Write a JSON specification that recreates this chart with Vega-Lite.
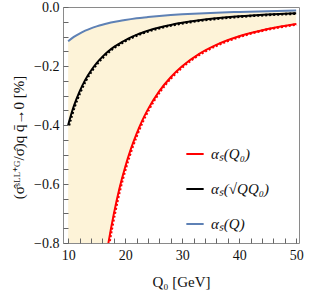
{
  "$schema": "https://vega.github.io/schema/vega-lite/v6.json",
  "autosize": "none",
  "width": 236,
  "height": 236,
  "padding": {"left": 63, "top": 7, "right": 10, "bottom": 53},
  "background": "white",
  "config": {
    "font": "Liberation Serif",
    "view": {"stroke": "#8a8a8a", "strokeWidth": 1},
    "axis": {
      "grid": false,
      "labelFont": "Liberation Serif",
      "labelFontSize": 14,
      "labelColor": "#111",
      "titleFont": "Liberation Serif",
      "titleFontWeight": "normal",
      "titleColor": "#111"
    }
  },
  "data": {
    "values": [
      {"Q0": 10, "red": -2.97, "black": -0.400, "blue": -0.116},
      {"Q0": 11, "red": -2.35, "black": -0.336, "blue": -0.1015},
      {"Q0": 12, "red": -1.90, "black": -0.287, "blue": -0.0899},
      {"Q0": 13, "red": -1.56, "black": -0.247, "blue": -0.0803},
      {"Q0": 14, "red": -1.30, "black": -0.216, "blue": -0.0724},
      {"Q0": 15, "red": -1.10, "black": -0.190, "blue": -0.0658},
      {"Q0": 16, "red": -0.937, "black": -0.169, "blue": -0.0601},
      {"Q0": 17, "red": -0.808, "black": -0.151, "blue": -0.0552},
      {"Q0": 18, "red": -0.703, "black": -0.136, "blue": -0.0509},
      {"Q0": 19, "red": -0.615, "black": -0.124, "blue": -0.0472},
      {"Q0": 20, "red": -0.543, "black": -0.113, "blue": -0.044},
      {"Q0": 21, "red": -0.482, "black": -0.103, "blue": -0.0411},
      {"Q0": 22, "red": -0.430, "black": -0.0945, "blue": -0.0385},
      {"Q0": 23, "red": -0.385, "black": -0.0871, "blue": -0.0361},
      {"Q0": 24, "red": -0.347, "black": -0.0806, "blue": -0.0341},
      {"Q0": 26, "red": -0.285, "black": -0.0696, "blue": -0.0305},
      {"Q0": 28, "red": -0.238, "black": -0.0608, "blue": -0.0274},
      {"Q0": 30, "red": -0.201, "black": -0.0536, "blue": -0.0249},
      {"Q0": 33, "red": -0.159, "black": -0.045, "blue": -0.0218},
      {"Q0": 36, "red": -0.1285, "black": -0.0384, "blue": -0.0193},
      {"Q0": 40, "red": -0.0993, "black": -0.0316, "blue": -0.0167},
      {"Q0": 45, "red": -0.0744, "black": -0.0255, "blue": -0.0141},
      {"Q0": 50, "red": -0.0575, "black": -0.021, "blue": -0.0122}
    ]
  },
  "layer": [
    {
      "mark": {"type": "area", "color": "#fdf3d8", "interpolate": "monotone", "clip": true},
      "encoding": {
        "x": {
          "field": "Q0", "type": "quantitative",
          "scale": {"domain": [9.1, 50.5], "nice": false, "zero": false},
          "axis": {
            "orient": "bottom",
            "values": [10, 12, 14, 16, 18, 20, 22, 24, 26, 28, 30, 32, 34, 36, 38, 40, 42, 44, 46, 48, 50],
            "labelExpr": "datum.value % 10 === 0 ? datum.label : ''",
            "ticks": true,
            "domain": false,
            "zindex": 2,
            "tickSize": -5,
            "tickOpacity": 1,
            "tickColor": "#666666",
            "tickWidth": 1,
            "labelPadding": 10,
            "title": "Q₀ [GeV]",
            "titleFontSize": 15,
            "titlePadding": 12
          }
        },
        "y": {
          "field": "blue", "type": "quantitative",
          "scale": {"domain": [-0.8, 0], "nice": false},
          "axis": {
            "orient": "left",
            "values": [-0.8, -0.75, -0.7, -0.65, -0.6, -0.55, -0.5, -0.45, -0.4, -0.35, -0.3, -0.25, -0.2, -0.15, -0.1, -0.05, 0],
            "format": ".1f",
            "labelExpr": "abs(round(datum.value * 20)) % 4 === 0 ? datum.label : ''",
            "ticks": true,
            "domain": false,
            "zindex": 2,
            "tickSize": -5,
            "tickOpacity": 1,
            "tickColor": "#666666",
            "tickWidth": 1,
            "labelPadding": 9,
            "title": "(σ̂ˢᴸᴸ⁺ᴳ/σ̂)q q̄→0 [%]",
            "titleFontSize": 15,
            "titleX": -45,
            "titleY": 130,
            "titleBaseline": "middle"
          }
        },
        "y2": {"field": "red"}
      }
    },
    {
      "transform": [{"fold": ["red", "black", "blue"], "as": ["series", "value"]}],
      "mark": {"type": "line", "strokeWidth": 2, "interpolate": "monotone", "clip": true},
      "encoding": {
        "x": {
          "field": "Q0", "type": "quantitative",
          "scale": {"domain": [9.1, 50.5], "nice": false, "zero": false},
          "axis": {
            "orient": "bottom",
            "values": [10, 12, 14, 16, 18, 20, 22, 24, 26, 28, 30, 32, 34, 36, 38, 40, 42, 44, 46, 48, 50],
            "labelExpr": "datum.value % 10 === 0 ? datum.label : ''",
            "ticks": true,
            "domain": false,
            "zindex": 2,
            "tickSize": -5,
            "tickOpacity": 1,
            "tickColor": "#666666",
            "tickWidth": 1,
            "labelPadding": 10,
            "title": "Q₀ [GeV]",
            "titleFontSize": 15,
            "titlePadding": 12
          }
        },
        "y": {
          "field": "value", "type": "quantitative",
          "scale": {"domain": [-0.8, 0], "nice": false},
          "axis": {
            "orient": "left",
            "values": [-0.8, -0.75, -0.7, -0.65, -0.6, -0.55, -0.5, -0.45, -0.4, -0.35, -0.3, -0.25, -0.2, -0.15, -0.1, -0.05, 0],
            "format": ".1f",
            "labelExpr": "abs(round(datum.value * 20)) % 4 === 0 ? datum.label : ''",
            "ticks": true,
            "domain": false,
            "zindex": 2,
            "tickSize": -5,
            "tickOpacity": 1,
            "tickColor": "#666666",
            "tickWidth": 1,
            "labelPadding": 9,
            "title": "(σ̂ˢᴸᴸ⁺ᴳ/σ̂)q q̄→0 [%]",
            "titleFontSize": 15,
            "titleX": -45,
            "titleY": 130,
            "titleBaseline": "middle"
          }
        },
        "color": {
          "field": "series", "type": "nominal",
          "scale": {"domain": ["red", "black", "blue"], "range": ["#ff0000", "#000000", "#5e81b5"]},
          "legend": {
            "orient": "none",
            "legendX": 122,
            "legendY": 137,
            "title": null,
            "symbolType": "stroke",
            "symbolSize": 300,
            "symbolStrokeWidth": 2,
            "labelFont": "Liberation Serif",
            "labelFontStyle": "italic",
            "labelFontSize": 15,
            "labelColor": "#111",
            "rowPadding": 17,
            "labelOffset": 6,
            "labelExpr": "datum.value === 'red' ? 'αₛ(Q₀)' : datum.value === 'black' ? 'αₛ(√QQ₀)' : 'αₛ(Q)'"
          }
        }
      }
    },
    {
      "transform": [{"fold": ["red", "black"], "as": ["series", "value"]}],
      "mark": {"type": "line", "strokeWidth": 2.6, "strokeDash": [2, 2], "interpolate": "monotone", "clip": true, "xOffset": 0.8, "yOffset": 0.4},
      "encoding": {
        "x": {
          "field": "Q0", "type": "quantitative",
          "scale": {"domain": [9.1, 50.5], "nice": false, "zero": false},
          "axis": {
            "orient": "bottom",
            "values": [10, 12, 14, 16, 18, 20, 22, 24, 26, 28, 30, 32, 34, 36, 38, 40, 42, 44, 46, 48, 50],
            "labelExpr": "datum.value % 10 === 0 ? datum.label : ''",
            "ticks": true,
            "domain": false,
            "zindex": 2,
            "tickSize": -5,
            "tickOpacity": 1,
            "tickColor": "#666666",
            "tickWidth": 1,
            "labelPadding": 10,
            "title": "Q₀ [GeV]",
            "titleFontSize": 15,
            "titlePadding": 12
          }
        },
        "y": {
          "field": "value", "type": "quantitative",
          "scale": {"domain": [-0.8, 0], "nice": false},
          "axis": {
            "orient": "left",
            "values": [-0.8, -0.75, -0.7, -0.65, -0.6, -0.55, -0.5, -0.45, -0.4, -0.35, -0.3, -0.25, -0.2, -0.15, -0.1, -0.05, 0],
            "format": ".1f",
            "labelExpr": "abs(round(datum.value * 20)) % 4 === 0 ? datum.label : ''",
            "ticks": true,
            "domain": false,
            "zindex": 2,
            "tickSize": -5,
            "tickOpacity": 1,
            "tickColor": "#666666",
            "tickWidth": 1,
            "labelPadding": 9,
            "title": "(σ̂ˢᴸᴸ⁺ᴳ/σ̂)q q̄→0 [%]",
            "titleFontSize": 15,
            "titleX": -45,
            "titleY": 130,
            "titleBaseline": "middle"
          }
        },
        "color": {"field": "series", "type": "nominal", "legend": null}
      }
    }
  ]
}
